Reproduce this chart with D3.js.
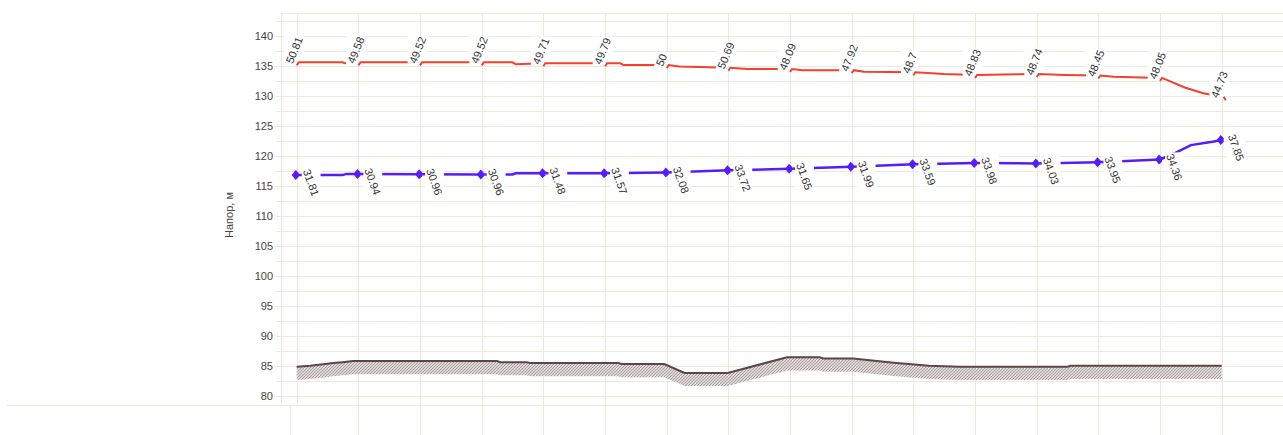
<!DOCTYPE html>
<html>
<head>
<meta charset="utf-8">
<script src="https://cdn.jsdelivr.net/npm/d3@7"></script>
<style>
  body { margin: 0; background: #fff; }
  svg { display: block; }
  text { font-family: "Liberation Sans", Arial, sans-serif; }
</style>
</head>
<body>
<svg width="1283" height="435"></svg>
<script>
// узлы трассы (порядковый номер)
const nodeIndex = [0, 1, 2, 3, 4, 5, 6, 7, 8, 9, 10, 11, 12, 13, 14, 15];
const yTicks = [80, 85, 90, 95, 100, 105, 110, 115, 120, 125, 130, 135, 140];

// подписи напоров в узлах
const redLabels = ["50.81", "49.58", "49.52", "49.52", "49.71", "49.79", "50", "50.69",
  "48.09", "47.92", "48.7", "48.83", "48.74", "48.45", "48.05", "44.73"];
const blueLabels = ["31.81", "30.94", "30.96", "30.96", "31.48", "31.57", "32.08", "33.72",
  "31.65", "31.99", "33.59", "33.98", "34.03", "33.95", "34.36", "37.85"];

// пьезометрическая линия подачи (красная)
const redPos = [0, 0.74, 0.78, 1, 2, 3, 3.5, 3.55, 4, 5, 5.25, 5.3, 6, 6.2, 7, 7.3, 8, 8.2,
  9, 9.2, 10, 10.5, 11, 12, 12.45, 13, 13.25, 14, 14.4, 14.7, 14.85, 15];
const redHead = [135.6, 135.6, 135.45, 135.6, 135.6, 135.6, 135.6, 135.3, 135.45, 135.45,
  135.45, 135.15, 135.15, 134.9, 134.7, 134.5, 134.5, 134.3, 134.3, 134.05, 133.95, 133.65,
  133.5, 133.65, 133.5, 133.4, 133.2, 133.0, 131.4, 130.45, 130.15, 129.85];

// пьезометрическая линия обратки (синяя)
const bluePos = [0, 0.75, 0.8, 1, 2, 3, 3.5, 3.55, 4, 5, 6, 7, 8, 9, 10, 11, 12, 13, 14,
  14.25, 14.5, 14.85, 15];
const blueHead = [116.8, 116.8, 117.0, 117.0, 116.95, 116.9, 116.9, 117.1, 117.1, 117.1,
  117.25, 117.6, 117.85, 118.2, 118.6, 118.8, 118.75, 118.95, 119.4, 120.5, 121.8, 122.35, 122.65];

// отметки земли
const groundPos = [0, 0.22, 0.43, 0.59, 0.75, 0.91, 3.25, 3.3, 3.73, 3.78, 5.21, 5.27, 5.96,
  6.29, 6.99, 7.95, 8.48, 8.54, 9.02, 9.68, 10.25, 10.75, 12.5, 12.55, 15];
const groundElev = [84.83, 85.0, 85.25, 85.45, 85.6, 85.78, 85.78, 85.6, 85.6, 85.45, 85.45,
  85.28, 85.28, 83.8, 83.8, 86.4, 86.4, 86.2, 86.2, 85.5, 85.0, 84.83, 84.83, 85.0, 85.0];
const bandDepth = 2.2;

const W = 1283, H = 435;
const svg = d3.select("svg");

const x = d3.scaleLinear().domain([0, 15]).range([296.7, 1221.7]);
const y = d3.scaleLinear().domain([78.75, 143.75]).range([403.2, 13.5]);
const gridColor = "#ebeadb";

// сетка
const hGrid = d3.range(80, 143, 2.5);
svg.append("g")
  .selectAll("line")
  .data(hGrid)
  .enter()
  .append("line")
  .attr("x1", 276).attr("x2", W)
  .attr("y1", (d) => Math.round(y(d)) + 0.5)
  .attr("y2", (d) => Math.round(y(d)) + 0.5)
  .attr("stroke", gridColor);

svg.append("line") // верхняя рамка
  .attr("x1", 281).attr("x2", W)
  .attr("y1", 13.5).attr("y2", 13.5)
  .attr("stroke", gridColor);

svg.append("line") // левая рамка
  .attr("x1", 281.5).attr("x2", 281.5)
  .attr("y1", 13.5).attr("y2", 403)
  .attr("stroke", gridColor);

svg.append("g")
  .selectAll("line")
  .data(nodeIndex)
  .enter()
  .append("line")
  .attr("x1", (d) => Math.round(x(d)) + 0.5)
  .attr("x2", (d) => Math.round(x(d)) + 0.5)
  .attr("y1", 13.5)
  .attr("y2", (d) => (d === 0 ? 403 : H))
  .attr("stroke", gridColor);

// нижняя панель
svg.append("line")
  .attr("x1", 7).attr("x2", W)
  .attr("y1", 405.5).attr("y2", 405.5)
  .attr("stroke", gridColor);
svg.append("line")
  .attr("x1", 290.5).attr("x2", 290.5)
  .attr("y1", 405).attr("y2", H)
  .attr("stroke", gridColor);

// ось Y
const yAxis = svg.append("g")
  .attr("transform", "translate(281,0)")
  .call(d3.axisLeft(y).tickValues(yTicks).tickSize(0).tickPadding(8));
yAxis.select(".domain").remove();
yAxis.selectAll("text")
  .attr("font-size", "11px")
  .attr("fill", "#444")
  .style("font-family", '"Liberation Sans", Arial, sans-serif');

svg.append("text")
  .attr("transform", "translate(233,215) rotate(-90)")
  .attr("text-anchor", "middle")
  .attr("font-size", "11px")
  .attr("fill", "#444")
  .text("Напор, м");

// земля
const defs = svg.append("defs");
const pat = defs.append("pattern")
  .attr("id", "hatch")
  .attr("patternUnits", "userSpaceOnUse")
  .attr("width", 3).attr("height", 3);
pat.append("rect").attr("width", 3).attr("height", 3).attr("fill", "#dbd5d5");
pat.append("path").attr("d", "M-1,1 L1,-1 M0,3 L3,0 M2,4 L4,2")
  .attr("stroke", "#ada2a2").attr("stroke-width", 1);

const groundPts = groundPos.map((p, i) => ({ p, v: groundElev[i] }));
svg.append("path")
  .datum(groundPts)
  .attr("fill", "url(#hatch)")
  .attr("d", d3.area()
    .x((d) => x(d.p))
    .y0((d) => y(d.v))
    .y1((d) => y(d.v - bandDepth)));
svg.append("path")
  .datum(groundPts)
  .attr("fill", "none")
  .attr("stroke", "#5e4545")
  .attr("stroke-width", 2)
  .attr("d", d3.line().x((d) => x(d.p)).y((d) => y(d.v)));

// подписи с белой подложкой
const layer = svg.append("g");
function label(str, px, py, ang) {
  const g = layer.append("g");
  const bg = g.append("rect").attr("fill", "#fff");
  const t = g.append("text")
    .attr("transform", `translate(${px},${py}) rotate(${ang})`)
    .attr("font-size", "11px")
    .attr("fill", "#333")
    .text(str);
  const b = t.node().getBBox();
  const r = (ang * Math.PI) / 180, c = Math.cos(r), s = Math.sin(r);
  const pts = [[b.x, b.y + 1], [b.x + b.width, b.y + 1], [b.x, b.y + b.height - 1], [b.x + b.width, b.y + b.height - 1]]
    .map(([u, v]) => [px + u * c - v * s, py + u * s + v * c]);
  const xs = pts.map((q) => q[0]), ys = pts.map((q) => q[1]);
  bg.attr("x", d3.min(xs)).attr("y", d3.min(ys))
    .attr("width", d3.max(xs) - d3.min(xs))
    .attr("height", d3.max(ys) - d3.min(ys));
}

function segment(pos, vals, i) {
  return pos
    .map((p, k) => ({ p, v: vals[k] }))
    .filter((d) => d.p >= i && d.p <= i + 1);
}
const nodeVal = (pos, vals, i) => vals[pos.indexOf(i)];

// красная линия: подпись узла, затем участок от узла
const redColor = "#f5402c";
nodeIndex.forEach((i) => {
  const v = nodeVal(redPos, redHead, i);
  const px = x(i), py = y(v);
  label(redLabels[i], px - 4, py + 2, -68);
  let d;
  if (i < 15) {
    const seg = segment(redPos, redHead, i).slice(1);
    d = `M${px},${py + 3}L${px + 2},${py}` + seg.map((q) => `L${x(q.p)},${y(q.v)}`).join("");
  } else {
    d = `M${px + 2},${py}L${px + 4},${py + 3.5}`;
  }
  layer.append("path")
    .attr("d", d)
    .attr("fill", "none")
    .attr("stroke", redColor)
    .attr("stroke-width", 2);
});

// синяя линия: участок, подпись, маркер
const blueColor = "#561ef2";
nodeIndex.forEach((i) => {
  const v = nodeVal(bluePos, blueHead, i);
  const px = x(i), py = y(v);
  if (i < 15) {
    layer.append("path")
      .datum(segment(bluePos, blueHead, i))
      .attr("fill", "none")
      .attr("stroke", blueColor)
      .attr("stroke-width", 2.5)
      .attr("d", d3.line().x((d) => x(d.p)).y((d) => y(d.v)));
  }
  label(blueLabels[i], px + 6, py - 4, 70);
  layer.append("path")
    .attr("d", `M${px - 5},${py}L${px - 1},${py - 5}L${px + 2},${py - 2}L${px + 2},${py + 2}L${px - 1},${py + 5}Z`)
    .attr("fill", blueColor);
});
</script>
</body>
</html>
